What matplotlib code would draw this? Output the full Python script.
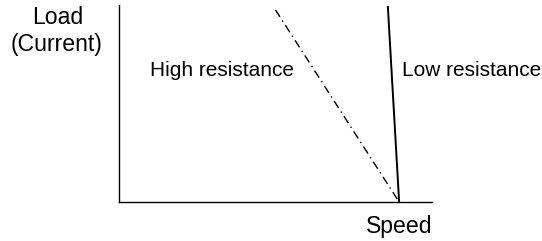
import matplotlib.pyplot as plt

plt.rcParams["font.family"] = ["Liberation Sans", "DejaVu Sans"]

# curve end points in axis units (speed, load)
high_speed = [0.50, 0.895]
high_load = [0.975, 0.0]
low_speed = [0.859, 0.895]
low_load = [0.99, 0.0]

LABEL_SIZE = 15.0
AXIS_SIZE = 16.6

fig = plt.figure(figsize=(5.42, 2.41), dpi=100)
ax = fig.add_axes([119 / 542, 39 / 241, 313 / 542, 197 / 241])
ax.set_xlim(0, 1)
ax.set_ylim(0, 1)

ax.plot(high_speed, high_load, color="black", linewidth=1.0, linestyle=(0, (6, 3, 1, 3)))
ax.plot(low_speed, low_load, color="black", linewidth=1.4)

for side in ("top", "right"):
    ax.spines[side].set_visible(False)
for side in ("left", "bottom"):
    ax.spines[side].set_linewidth(1.0)
ax.set_xticks([])
ax.set_yticks([])

ax.text(0.099, 0.67, "High resistance", fontsize=LABEL_SIZE, ha="left", va="center",
        transform=ax.transAxes)
ax.text(0.903, 0.67, "Low resistance", fontsize=LABEL_SIZE, ha="left", va="center",
        transform=ax.transAxes)
fig.text(58 / 542, 1 - 17 / 241, "Load", fontsize=AXIS_SIZE, ha="center", va="center")
fig.text(57 / 542, 1 - 45 / 241, "(Current)", fontsize=AXIS_SIZE, ha="center", va="center")
fig.text(432 / 542, 1 - 226 / 241, "Speed", fontsize=AXIS_SIZE, ha="right", va="center")

fig.savefig("out.png", dpi=100)
